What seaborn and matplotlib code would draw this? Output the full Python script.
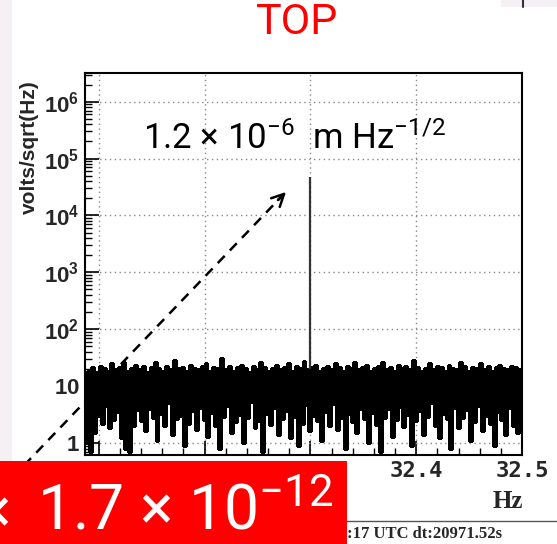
import numpy as np
import pandas as pd
import matplotlib
matplotlib.use("Agg")
import matplotlib.pyplot as plt
import seaborn as sns
from matplotlib.patches import Rectangle, FancyArrowPatch
from matplotlib.lines import Line2D
from matplotlib.ticker import FixedLocator, FixedFormatter, LogLocator, NullFormatter, MultipleLocator

# ---------------- data ----------------
freq_min, freq_max = 32.087, 32.5
xtick_values = [32.1, 32.2, 32.3, 32.4, 32.5]
xtick_labels = ["32.1", "32.2", "32.3", "32.4", "32.5"]
ytick_values = [1, 10, 1e2, 1e3, 1e4, 1e5, 1e6]
ytick_labels = [r"$\mathbf{1}$", r"$\mathbf{10}$", r"$\mathbf{10^{2}}$", r"$\mathbf{10^{3}}$",
                r"$\mathbf{10^{4}}$", r"$\mathbf{10^{5}}$", r"$\mathbf{10^{6}}$"]

noise_high = [17, 18, 21, 17, 22, 20, 18, 24, 19, 21, 26, 18, 20, 23, 19, 22, 17, 21, 25, 20,
              18, 22, 19, 28, 20, 21, 18, 23, 20, 19, 22, 24, 18, 21, 20, 30, 19, 22, 18, 21,
              23, 20, 17, 22, 19, 25, 21, 18, 20, 23, 19, 21, 24, 18, 22, 20, 27, 19, 21, 23,
              18, 20, 22, 19, 24, 21, 18, 22, 20, 26, 19, 21, 23, 18, 20, 22, 25, 19, 21, 18,
              23, 20, 22, 19, 28, 21, 18, 20, 24, 19, 22, 21, 18, 23, 20, 19, 26, 22, 18, 21,
              20, 24, 19, 22, 18, 21, 23, 20, 19, 22, 21, 19]
noise_low = [1.0, 0.7, 1.5, 3.0, 2.2, 4.5, 1.8, 2.5, 3.5, 1.2, 0.8, 0.7, 2.0, 3.8, 2.4, 1.6,
             4.0, 2.8, 1.1, 3.2, 2.0, 5.0, 1.4, 2.6, 3.0, 0.9, 2.2, 3.6, 1.7, 4.2, 2.5, 1.3,
             3.4, 2.0, 0.8, 2.9, 4.4, 1.5, 2.3, 3.1, 1.0, 2.7, 5.2, 1.8, 2.4, 0.7, 3.3, 2.1,
             4.1, 1.4, 2.6, 3.7, 1.2, 2.9, 0.9, 2.2, 4.6, 1.6, 3.0, 2.4, 1.1, 3.5, 2.0, 4.8,
             1.7, 2.7, 0.8, 3.2, 2.3, 1.5, 4.0, 2.6, 1.0, 3.4, 2.1, 0.7, 2.8, 3.9, 1.3, 2.5,
             4.3, 1.9, 3.1, 0.9, 2.4, 3.6, 1.4, 2.9, 5.0, 2.0, 1.2, 3.3, 2.6, 0.8, 4.1, 1.8,
             2.7, 3.8, 1.1, 2.3, 4.5, 1.6, 3.0, 2.2, 0.9, 3.5, 2.5, 1.4, 4.2, 2.0, 1.5, 2.8]
peak_freq = [32.3]
peak_amp = [4.7e4]

# interleave high/low samples into one spectrum
n = min(len(noise_high), len(noise_low))
amp = []
for h, l in zip(noise_high[:n], noise_low[:n]):
    amp += [h, l]
freq = np.linspace(freq_min, freq_max, len(amp))
df = pd.DataFrame({"freq": freq, "amp": amp})

# ---------------- style ----------------
sns.set_theme(style="white")
plt.rcParams["font.family"] = ["Roboto", "DejaVu Sans"]
plt.rcParams["mathtext.fontset"] = "custom"
plt.rcParams["mathtext.rm"] = "Roboto"
plt.rcParams["mathtext.it"] = "Roboto"
plt.rcParams["mathtext.bf"] = "Liberation Sans:bold"

W, H = 557, 544
fig = plt.figure(figsize=(W / 100, H / 100), dpi=100)
fig.patch.set_facecolor("white")

def fx(px):
    return px / W

def fy(py):
    return 1 - py / H

ax = fig.add_axes([fx(85), fy(455), fx(522) - fx(85), fy(73) - fy(455)])
ax.set_facecolor("white")

sns.lineplot(data=df, x="freq", y="amp", ax=ax, color="black", linewidth=1.7,
             drawstyle="steps-mid", estimator=None, sort=False, zorder=3,
             antialiased=False)
ax.vlines(peak_freq, [20], peak_amp, color="#333333", linewidth=1.6, zorder=3)

ax.set_yscale("log")
ax.set_xlim(freq_min, freq_max)
ax.set_ylim(10 ** -0.211, 10 ** 6.505)

ax.xaxis.set_major_locator(FixedLocator(xtick_values))
ax.xaxis.set_major_formatter(FixedFormatter(xtick_labels))
ax.xaxis.set_minor_locator(MultipleLocator(0.02))
ax.yaxis.set_major_locator(FixedLocator(ytick_values))
ax.yaxis.set_major_formatter(FixedFormatter(ytick_labels))
ax.yaxis.set_minor_locator(LogLocator(base=10, subs=np.arange(2, 10), numticks=20))
ax.yaxis.set_minor_formatter(NullFormatter())

ax.grid(True, which="major", color="#888888", linestyle=(0, (1, 2.5)), linewidth=1.0)
ax.set_axisbelow(True)

ax.tick_params(axis="both", which="major", direction="in", length=10, width=1.2, color="black")
ax.tick_params(axis="both", which="minor", direction="in", length=5, width=1.0, color="black")
ax.tick_params(axis="y", which="both", left=True, right=False, labelsize=16, pad=4)
ax.tick_params(axis="x", which="both", bottom=True, top=False, labelsize=16, pad=4)
for lab in ax.get_xticklabels():
    lab.set_fontfamily("DejaVu Sans Mono")
    lab.set_fontweight("bold")

for s in ax.spines.values():
    s.set_color("black")
    s.set_linewidth(1.5)
ax.set_xlabel("")
ax.set_ylabel("")

# ---------------- decorations ----------------
fig.patches.append(Rectangle((0, fy(461)), fx(12), 1 - fy(461), transform=fig.transFigure,
                             facecolor="#f4f0f4", edgecolor="none", zorder=0))
fig.patches.append(Rectangle((fx(501), fy(7)), 1 - fx(501), 1 - fy(7), transform=fig.transFigure,
                             facecolor="#f4f0f4", edgecolor="none", zorder=0))
fig.lines.append(Line2D([fx(523), fx(523)], [fy(7), 1], transform=fig.transFigure,
                        color="#333333", linewidth=1.5))

fig.text(29 / W, fy(147), "volts/sqrt(Hz)", rotation=90, ha="center", va="center",
         fontsize=15, fontweight="bold", family=["Liberation Sans", "DejaVu Sans"])

fig.text(fx(297), fy(23), "TOP", color="#ff0000", fontsize=31, ha="center", va="center")

fig.text(fx(143), fy(149), r"1.2 $\times$ 10$^{-6}$  m Hz$^{-1/2}$", color="black",
         fontsize=25, ha="left", va="baseline")

# dashed arrow
fig.lines.append(Line2D([fx(12), fx(282)], [fy(478), fy(196)], transform=fig.transFigure,
                        color="black", linewidth=1.8, linestyle=(0, (4, 3)), zorder=4))
fig.add_artist(FancyArrowPatch((fx(276), fy(202)), (fx(288), fy(190)),
                               transform=fig.transFigure, arrowstyle="->",
                               mutation_scale=22, linewidth=1.8,
                               color="black", zorder=4))

fig.text(fx(523), fy(508), "Hz", ha="right", va="baseline", fontsize=18, fontweight="bold",
         family=["Liberation Serif", "DejaVu Serif"])

fig.lines.append(Line2D([fx(345), 1], [fy(521), fy(521)], transform=fig.transFigure,
                        color="#555555", linewidth=1.0))
fig.text(fx(347), fy(538), ":17 UTC dt:20971.52s", ha="left", va="baseline", fontsize=12,
         fontweight="bold", family=["Liberation Serif", "DejaVu Serif"])

fig.patches.append(Rectangle((0, 0), fx(347), fy(461), transform=fig.transFigure,
                             facecolor="#ff0000", edgecolor="none", zorder=5))
fig.text(fx(37), fy(530), r"1.7 $\times$ 10$^{-12}$", color="white", fontsize=45,
         ha="left", va="baseline", zorder=6)
fig.text(fx(9), fy(530), r"$\times$", color="white", fontsize=45, ha="right",
         va="baseline", zorder=6)

fig.savefig("out.png", dpi=100, facecolor="white")
